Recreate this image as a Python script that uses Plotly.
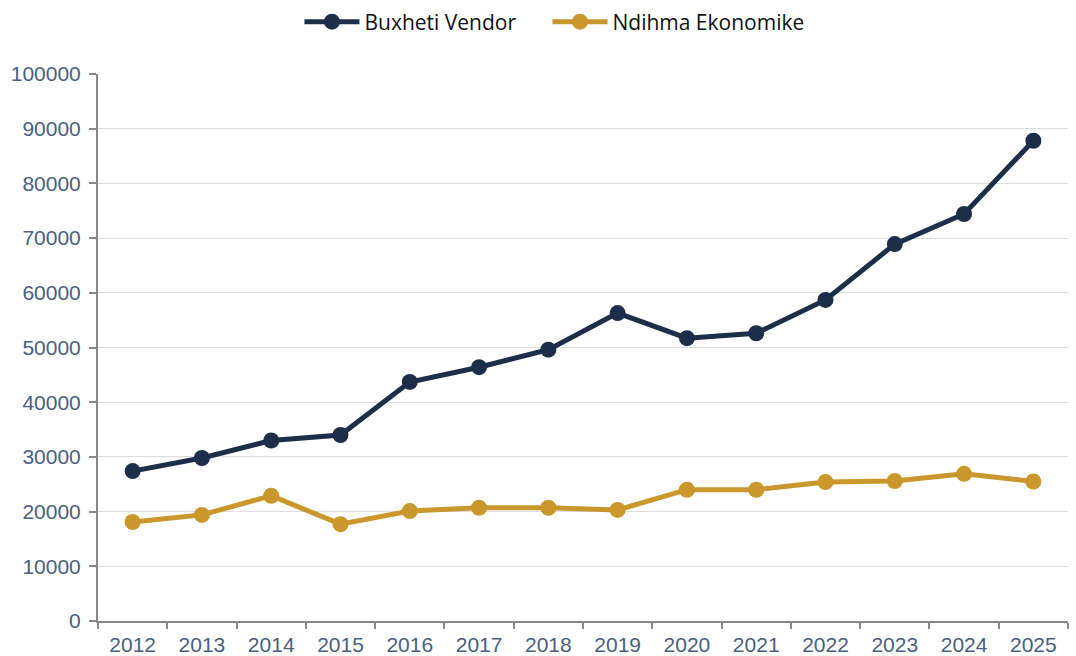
import plotly.graph_objects as go

years = [str(y) for y in range(2012, 2026)]
buxheti = [27400, 29800, 33000, 34000, 43700, 46400, 49600, 56300, 51700, 52600, 58700, 68900, 74400, 87800]
ndihma = [18100, 19400, 22900, 17700, 20100, 20700, 20700, 20300, 24000, 24000, 25400, 25600, 26900, 25500]

fig = go.Figure()
fig.add_trace(go.Scatter(x=years, y=buxheti, name="Buxheti Vendor", mode="lines+markers",
                         line=dict(color="#1c2e4a", width=5), marker=dict(size=16, color="#1c2e4a"),
                         legend="legend"))
fig.add_trace(go.Scatter(x=years, y=ndihma, name="Ndihma Ekonomike", mode="lines+markers",
                         line=dict(color="#c9972c", width=5), marker=dict(size=16, color="#c9972c"),
                         legend="legend2"))

leg_common = dict(orientation="h", xanchor="left", xref="container",
                  y=0.9665, yanchor="middle", yref="container",
                  font=dict(family="Open Sans", size=21, color="#111111"),
                  itemwidth=55, bgcolor="rgba(0,0,0,0)")

fig.update_layout(
    width=1076, height=656,
    margin=dict(l=98, r=8, t=74, b=35, autoexpand=False),
    plot_bgcolor="white", paper_bgcolor="white",
    font=dict(family="Liberation Sans, Arial", size=21, color="#4a6080"),
    legend=dict(x=0.2783, **leg_common),
    legend2=dict(x=0.5088, **leg_common),
    showlegend=True,
)
fig.update_xaxes(type="category", tickson="boundaries", ticks="outside", ticklen=6, tickwidth=2,
                 tickcolor="#888888", showline=True, linecolor="#888888", linewidth=2,
                 showgrid=False, range=[-0.5, 13.5], tickfont=dict(size=21), ticklabelstandoff=4)
fig.update_yaxes(range=[0, 100000], dtick=10000, tickformat="d", ticks="outside", ticklen=7, tickwidth=2,
                 tickcolor="#888888", showline=True, linecolor="#888888", linewidth=2,
                 showgrid=True, gridcolor="#dddddd", gridwidth=1, zeroline=False, ticklabelstandoff=4)

fig.write_html("out.html", config={"displayModeBar": False},
               post_script="document.body.style.margin='0';document.body.style.overflow='hidden';")
